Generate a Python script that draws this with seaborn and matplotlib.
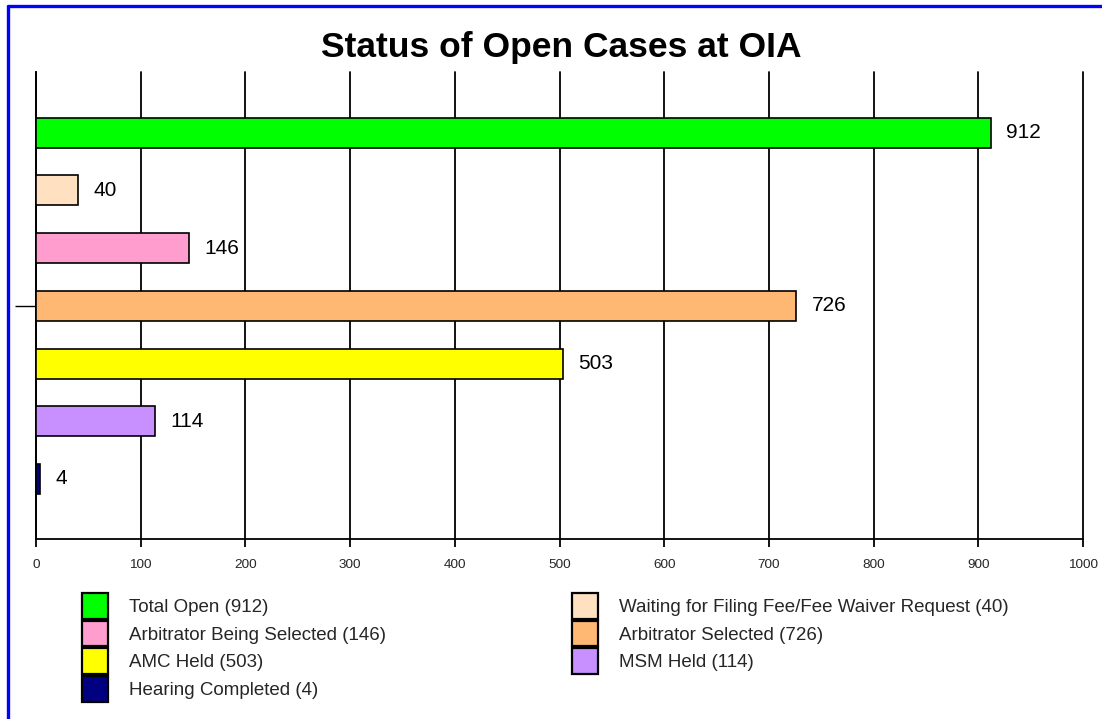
import matplotlib
matplotlib.use("Agg")
import matplotlib.pyplot as plt
import seaborn as sns
import pandas as pd
from matplotlib.patches import Patch
from matplotlib.lines import Line2D

categories = ["Total Open", "Waiting for Filing Fee/Fee Waiver Request",
              "Arbitrator Being Selected", "Arbitrator Selected",
              "AMC Held", "MSM Held", "Hearing Completed"]
values = [912, 40, 146, 726, 503, 114, 4]
colors = ["#00FF00", "#FFE0C0", "#FF9ECE", "#FFB874", "#FFFF00", "#C890FF", "#000080"]
title = "Status of Open Cases at OIA"
xticks = [0, 100, 200, 300, 400, 500, 600, 700, 800, 900, 1000]

sns.set_theme(style="white")
plt.rcParams['font.family'] = ['Liberation Sans', 'DejaVu Sans']

df = pd.DataFrame({"category": categories, "value": values})

W, H = 1102, 719
fig = plt.figure(figsize=(W / 100, H / 100), dpi=100)
ax = fig.add_axes([36 / W, 1 - 539 / H, (1083 - 36) / W, (539 - 72) / H])

sns.barplot(data=df, y="category", x="value", hue="category",
            palette=colors, order=categories, hue_order=categories,
            width=0.52, edgecolor="black", linewidth=1.2, legend=False,
            saturation=1, orient="h", ax=ax, zorder=3)

ax.set_xlim(0, 1000)
ax.set_ylim(7.04, -1.05)
ax.set_xticks(xticks)
ax.set_xticklabels([str(t) for t in xticks])
ax.set_yticks([3])
ax.set_yticklabels([""])
ax.set_xlabel("")
ax.set_ylabel("")

ax.xaxis.grid(True, color="black", linewidth=1.3, zorder=0)
ax.yaxis.grid(False)
ax.set_axisbelow(True)
for ln in ax.get_xgridlines():
    ln.set_clip_on(False)

for s in ["top", "right"]:
    ax.spines[s].set_visible(False)
for s in ["left", "bottom"]:
    ax.spines[s].set_visible(True)
    ax.spines[s].set_color("black")
    ax.spines[s].set_linewidth(1.3)

ax.tick_params(axis="x", direction="out", length=6, width=1.3, color="black",
               labelsize=9.7, pad=8.5, bottom=True)
ax.tick_params(axis="y", direction="out", length=15, width=1.0, color="black",
               left=True)

for cont in ax.containers:
    ax.bar_label(cont, fmt="%g", padding=11, fontsize=15, color="black")

fig.text(561 / W, 1 - 47 / H, title, ha="center", va="center",
         fontsize=25.5, fontweight="bold", color="black")

handles = [Patch(facecolor=c, edgecolor="black", linewidth=1.6) for c in colors]
labels = [f"{c} ({v})" for c, v in zip(categories, values)]

col1 = [0, 2, 4, 6]
col2 = [1, 3, 5]
common = dict(loc="upper left", frameon=False, fontsize=13.5, handlelength=1.39,
              handleheight=1.74, handletextpad=1.12, labelspacing=0.1, borderpad=0,
              borderaxespad=0)
fig.legend([handles[i] for i in col1], [labels[i] for i in col1],
           bbox_to_anchor=(82 / W, 1 - 593 / H), **common)
fig.legend([handles[i] for i in col2], [labels[i] for i in col2],
           bbox_to_anchor=(572 / W, 1 - 593 / H), **common)

# blue frame (top and left edges)
fig.add_artist(Line2D([7.5 / W, 1], [1 - 5.5 / H, 1 - 5.5 / H], color="#0000FF",
                      linewidth=2.4, transform=fig.transFigure))
fig.add_artist(Line2D([7.5 / W, 7.5 / W], [0, 1 - 5.5 / H], color="#0000FF",
                      linewidth=2.4, transform=fig.transFigure))

fig.savefig("out.png", dpi=100, facecolor="white")
